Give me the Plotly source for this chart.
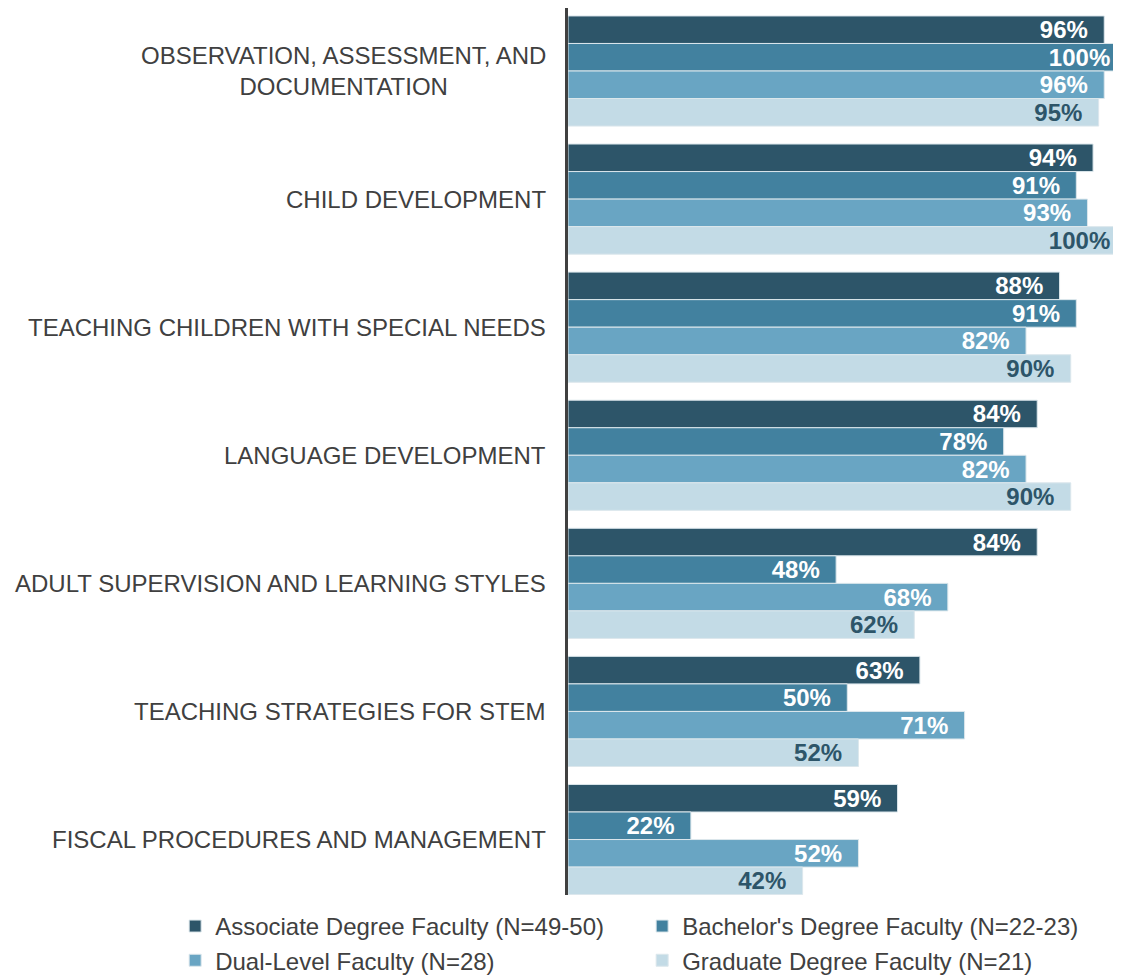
import plotly.graph_objects as go

categories = [
    "OBSERVATION, ASSESSMENT, AND<br>DOCUMENTATION",
    "CHILD DEVELOPMENT",
    "TEACHING CHILDREN WITH SPECIAL NEEDS",
    "LANGUAGE DEVELOPMENT",
    "ADULT SUPERVISION AND LEARNING STYLES",
    "TEACHING STRATEGIES FOR STEM",
    "FISCAL PROCEDURES AND MANAGEMENT",
]
associate = [96, 94, 88, 84, 84, 63, 59]
bachelor = [100, 91, 91, 78, 48, 50, 22]
dual = [96, 93, 82, 82, 68, 71, 52]
graduate = [95, 100, 90, 90, 62, 52, 42]

series_names = [
    "Associate Degree Faculty (N=49-50)",
    "Bachelor's Degree Faculty (N=22-23)",
    "Dual-Level Faculty (N=28)",
    "Graduate Degree Faculty (N=21)",
]
colors = ["#2D5569", "#42819F", "#69A5C3", "#C3DBE6"]
label_colors = ["white", "white", "white", "#2D5569"]

fig = go.Figure()
for name, vals, col, lcol in zip(series_names, [associate, bachelor, dual, graduate], colors, label_colors):
    fig.add_trace(go.Bar(
        y=categories, x=vals, name=name, orientation="h",
        marker=dict(color=col, line=dict(color="#DCE7EC", width=1)),
        text=[f"{v}%" + "\u00a0\u00a0" for v in vals],
        textposition="inside", insidetextanchor="end", textangle=0,
        constraintext="none",
        insidetextfont=dict(family="Liberation Sans", size=24, color=lcol, weight="bold"),
        hoverinfo="skip",
    ))

for c in categories:
    fig.add_annotation(
        x=0, xref="paper", y=c, yref="y", text=c, showarrow=False,
        xanchor="right", xshift=-20, align="center",
        font=dict(family="Liberation Sans", size=24, color="#404040"),
    )

# page body adds an 8px offset, so the figure is a bit smaller than the window
fig.update_layout(
    width=1113, height=971,
    margin=dict(l=560, r=0, t=0, b=84, autoexpand=False),
    barmode="group", bargap=0.14, bargroupgap=0,
    plot_bgcolor="white", paper_bgcolor="white",
    font=dict(family="Liberation Sans", size=24, color="#404040"),
    legend=dict(
        orientation="h", x=-0.7104, xanchor="left", y=-0.0101, yanchor="top",
        entrywidth=422, entrywidthmode="pixels", itemwidth=30,
        font=dict(family="Liberation Sans", size=24, color="#404040"),
        traceorder="normal",
    ),
    showlegend=True,
)
fig.update_xaxes(range=[0, 99.0], visible=False, showgrid=False, zeroline=False)
fig.update_yaxes(
    autorange=False, range=[6.433, -0.492], showticklabels=False,
    showline=True, linecolor="#404040", linewidth=3, showgrid=False, ticks="",
)

fig.write_html("out.html")
